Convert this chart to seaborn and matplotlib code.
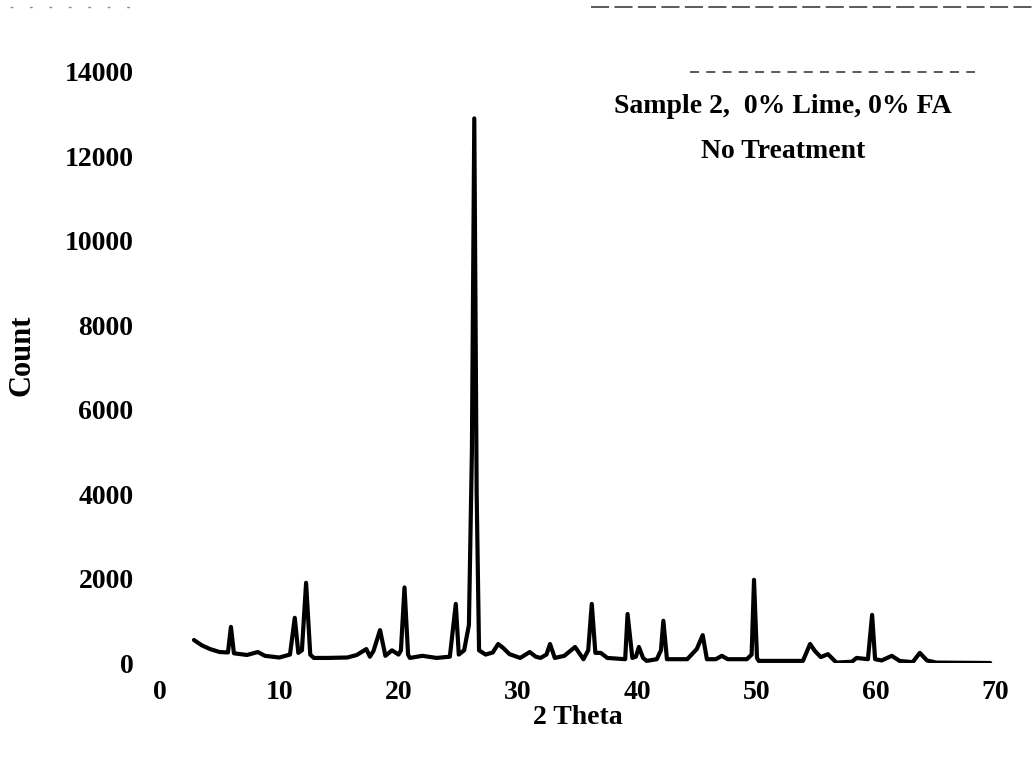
import matplotlib
matplotlib.use("Agg")
import matplotlib.pyplot as plt
import seaborn as sns
import pandas as pd
from matplotlib.lines import Line2D

# -------------------- 数据 --------------------
two_theta = [
    2.85, 3.5, 4.2, 5.0, 5.7, 5.95, 6.2, 7.3, 8.2, 8.8,
    10.0, 10.9, 11.3, 11.6, 11.9, 12.25, 12.6, 12.9, 14.0, 15.7,
    16.5, 17.3, 17.6, 17.9, 18.45, 18.9, 19.45, 20.0, 20.2, 20.5,
    20.8, 20.95, 22.0, 23.2, 24.3, 24.8, 25.05, 25.5, 25.9, 26.15,
    26.35, 26.55, 26.75, 27.3, 27.9, 28.35, 28.8, 29.3, 30.2, 31.0,
    31.5, 31.9, 32.4, 32.7, 33.1, 33.9, 34.8, 35.5, 35.9, 36.2,
    36.5, 36.95, 37.5, 38.5, 39.0, 39.2, 39.6, 39.9, 40.15, 40.5,
    40.8, 41.65, 42.0, 42.2, 42.5, 44.2, 45.0, 45.5, 45.85, 46.6,
    47.1, 47.6, 49.2, 49.6, 49.8, 50.05, 50.2, 53.9, 54.5, 54.9,
    55.4, 56.0, 56.7, 58.0, 58.4, 59.35, 59.7, 59.95, 60.5, 61.35,
    62.0, 63.1, 63.7, 64.3, 65.1, 69.6,
]
counts = [
    545, 420, 330, 260, 250, 855, 230, 190, 260, 170,
    130, 200, 1070, 240, 300, 1900, 200, 120, 120, 130,
    190, 330, 150, 285, 780, 170, 300, 200, 300, 1790,
    200, 120, 170, 120, 150, 1400, 200, 300, 900, 5000,
    12900, 4000, 300, 200, 250, 450, 350, 210, 120, 260,
    150, 120, 200, 450, 120, 170, 380, 90, 300, 1400,
    240, 240, 120, 100, 90, 1160, 120, 150, 380, 120,
    50, 90, 300, 1000, 90, 90, 330, 660, 90, 90,
    170, 90, 90, 200, 1970, 120, 50, 50, 450, 285,
    140, 210, 10, 30, 120, 90, 1140, 90, 60, 170,
    50, 20, 240, 60, 10, 0,
]
x_ticks = [0, 10, 20, 30, 40, 50, 60, 70]
y_ticks = [0, 2000, 4000, 6000, 8000, 10000, 12000, 14000]
note_lines = ["Sample 2,  0% Lime, 0% FA", "No Treatment"]

df = pd.DataFrame({"2 Theta": two_theta, "Count": counts})

# -------------------- 绘图 --------------------
sns.set_theme(style="white")
plt.rcParams['font.family'] = ['Liberation Serif', 'DejaVu Serif']
plt.rcParams['font.weight'] = 'bold'

fig = plt.figure(figsize=(10.36, 7.73), dpi=100)
ax = fig.add_axes([0.1544, 0.1423, 0.806, 0.7646])

sns.lineplot(data=df, x="2 Theta", y="Count", ax=ax, color="black",
             linewidth=3.0, estimator=None, sort=False)

ax.set_xlim(0, 70)
ax.set_ylim(0, 14000)
ax.set_xticks(x_ticks)
ax.set_yticks(y_ticks)
ax.set_xticklabels([str(v) for v in x_ticks], fontsize=20, fontweight='bold')
ax.set_yticklabels([str(v) for v in y_ticks], fontsize=20, fontweight='bold')
ax.tick_params(axis='both', length=2, width=1.8, color='black', labelcolor='black')
ax.tick_params(axis='x', pad=10)
ax.tick_params(axis='y', pad=17)
for s in ax.spines.values():
    s.set_visible(False)

ax.set_xlabel("2 Theta", fontsize=20, fontweight='bold', color='black', labelpad=0)
ax.set_ylabel("Count", fontsize=22, fontweight='bold', color='black')
ax.yaxis.set_label_coords(-0.148, 0.52)

ax.text(0.746, 0.962, "\n".join(note_lines), transform=ax.transAxes,
        ha='center', va='top', fontsize=20, fontweight='bold', color='black',
        linespacing=2.05)

# 扫描残留的虚线
ax.hlines(14000, 44.4, 68.3, colors='0.3', linestyles=(0, (5, 4)), lw=1.3, clip_on=False)
fig.add_artist(Line2D([0.57, 1.0], [0.991, 0.991], color='0.3', lw=1.3,
                      linestyle=(0, (10, 3))))
fig.add_artist(Line2D([0.01, 0.14], [0.991, 0.991], color='0.55', lw=1.0,
                      linestyle=(0, (2, 12))))

fig.savefig("out.png", dpi=100)
